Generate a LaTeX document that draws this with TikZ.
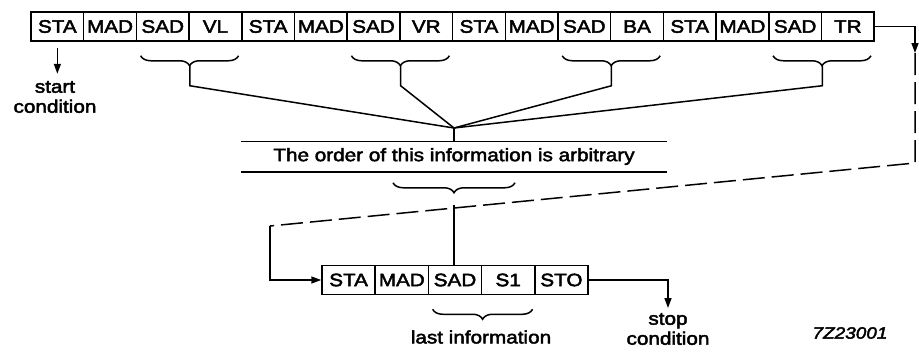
\documentclass[tikz,border=0pt]{standalone}
\usepackage{fontspec}
\setmainfont{Liberation Sans}[FakeStretch=1.15,FakeBold=2.5]
\usetikzlibrary{arrows.meta,decorations.pathreplacing}

\begin{document}
\begin{tikzpicture}[x=1pt,y=-1pt,line width=1.5pt,
        every node/.style={font=\fontsize{18}{20}\selectfont},
        cell/.style={draw,minimum width=52.7pt,minimum height=29pt,inner sep=0pt},
        brc/.style={decorate,decoration={brace,mirror,amplitude=10pt}},
        tip/.style={-{Triangle[length=10pt,width=7pt]}}]
    \useasboundingbox (0,0) rectangle (919,351);

    \foreach \lbl [count=\i] in {STA,MAD,SAD,VL,STA,MAD,SAD,VR,STA,MAD,SAD,BA,STA,MAD,SAD,TR}
        \node[cell] (t\i) at ({57.35+52.7*(\i-1)},26.5) {\lbl};

    \coordinate (jn) at (454,128);
    \foreach \a in {3,7,11,15} {
        \pgfmathtruncatemacro\b{\a+1}
        \draw[brc] ([xshift=5pt,yshift=-14pt]t\a.south west) -- ([xshift=-4pt,yshift=-14pt]t\b.south east);
        \draw ([yshift=-24pt]t\a.south east) -- ([yshift=-44pt]t\a.south east) -- (jn);
    }

    \node[minimum width=424pt,minimum height=29pt,inner sep=0pt] (ord) at (454,156.5) {The order of this information is arbitrary};
    \draw (ord.north west) -- (ord.north east);
    \draw (ord.south west) -- (ord.south east);
    \draw (jn) -- (ord.north);
    \draw[brc] ([xshift=-61pt,yshift=-11pt]ord.south) -- ([xshift=61pt,yshift=-11pt]ord.south);

    \foreach \lbl [count=\i] in {STA,MAD,SAD,S1,STO}
        \node[cell,minimum width=53.2pt] (b\i) at ({348.6+53.2*(\i-1)},280) {\lbl};
    \draw ([yshift=-33pt]ord.south) -- (ord.south |- b3.north);
    \draw[brc] ([xshift=5pt,yshift=-14pt]b3.south west) -- ([xshift=-3pt,yshift=-14pt]b4.south east);
    \node (last) at (481,337) {last information};

    \coordinate (rt) at (915,26.5);
    \coordinate (rd) at (915,53);
    \coordinate (rb) at (915,163);
    \coordinate (lc) at (270,226);
    \draw[tip] (t16.east) -- (rt) -- (rd);
    \draw[dash pattern=on 22pt off 7pt] (rd) -- (rb) -- (lc);
    \draw[tip] (lc) -- (lc |- b1.west) -- (b1.west);

    \draw[tip] ([yshift=-6pt]t1.south) -- ([yshift=-32pt]t1.south);
    \node[align=center] (stc) at (55,97) {start\\condition};

    \coordinate (sc) at (668,280);
    \draw[tip] (b5.east) -- (sc) -- (668,308);
    \node[align=center,inner sep=0pt] (spc) at (668,329) {stop\\condition};

    \node[font=\itshape\fontsize{16.5}{20}\selectfont] (fig) at (850,333) {7Z23001};
\end{tikzpicture}
\end{document}
